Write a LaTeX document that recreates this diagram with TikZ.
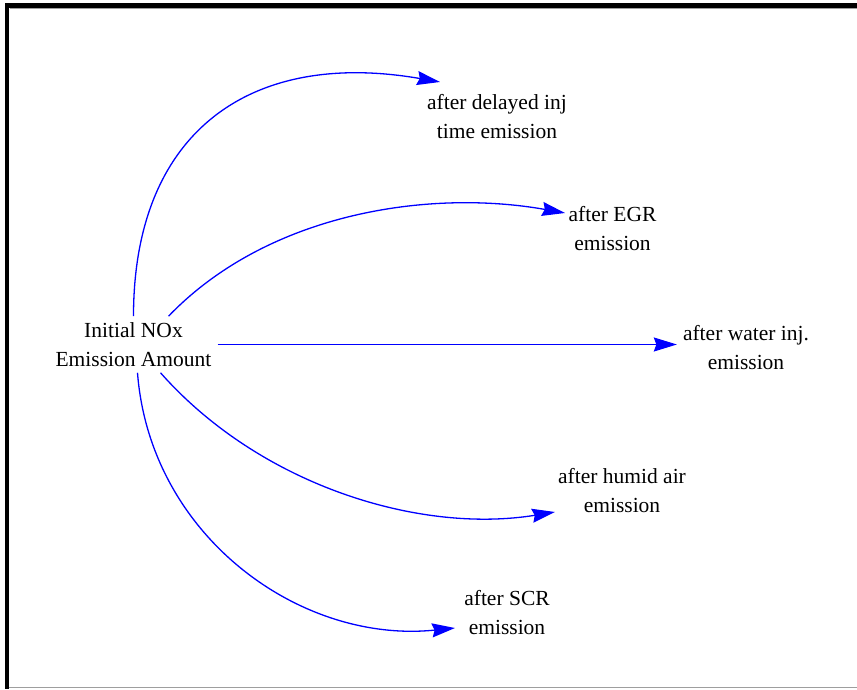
\documentclass[tikz,border=0pt]{standalone}
\usepackage{fontspec}
\setmainfont{Liberation Serif}
\usetikzlibrary{arrows.meta}
\definecolor{linkblue}{HTML}{0000FF}
\definecolor{framegray}{HTML}{9E9E9E}

\begin{document}
\begin{tikzpicture}[x=1pt, y=1pt,
  var/.style={align=center, inner sep=6pt,
              font=\fontsize{21.5}{29}\selectfont},
  arr/.style={-{Stealth[length=23pt, width=14pt, inset=2.5pt]}, linkblue, line width=1.3pt},
]
  \useasboundingbox (0,0) rectangle (857,689);
  \fill[black] (5,681) rectangle (857,686);
  \fill[black] (5,0) rectangle (9,686);
  \draw[framegray, line width=0.8pt] (9.5,680.5) -- (857,680.5);
  \draw[framegray, line width=1.5pt] (9,1.5) -- (857,1.5);

  \node[var] (src) at (133.5,344.5) {Initial NOx\\Emission Amount};
  \node[var] (d1)  at (497,572.5)   {after delayed inj\\time emission};
  \node[var] (d2)  at (612.5,460)   {after EGR\\emission};
  \node[var] (d3)  at (746,341)     {after water inj.\\emission};
  \node[var] (d4)  at (622,198.5)   {after humid air\\emission};
  \node[var] (d5)  at (507,76.5)    {after SCR\\emission};

  \draw[arr] (src.north) .. controls +(0,184) and +(-190,33) .. ([shift={(-57,34.5)}]d1.center);
  \draw[arr] ([xshift=35]src.north) .. controls +(100,104) and +(-135,24) .. ([shift={(-47.5,16)}]d2.center);
  \draw[arr] (src.east) -- (src.east -| d3.west);
  \draw[arr] ([xshift=27]src.south) .. controls +(100,-113) and +(-135,-22) .. ([shift={(-67,-21.5)}]d4.center);
  \draw[arr] ([xshift=4]src.south) .. controls +(12.5,-163) and +(-155,-16) .. ([shift={(-52,-15.5)}]d5.center);
\end{tikzpicture}
\end{document}
